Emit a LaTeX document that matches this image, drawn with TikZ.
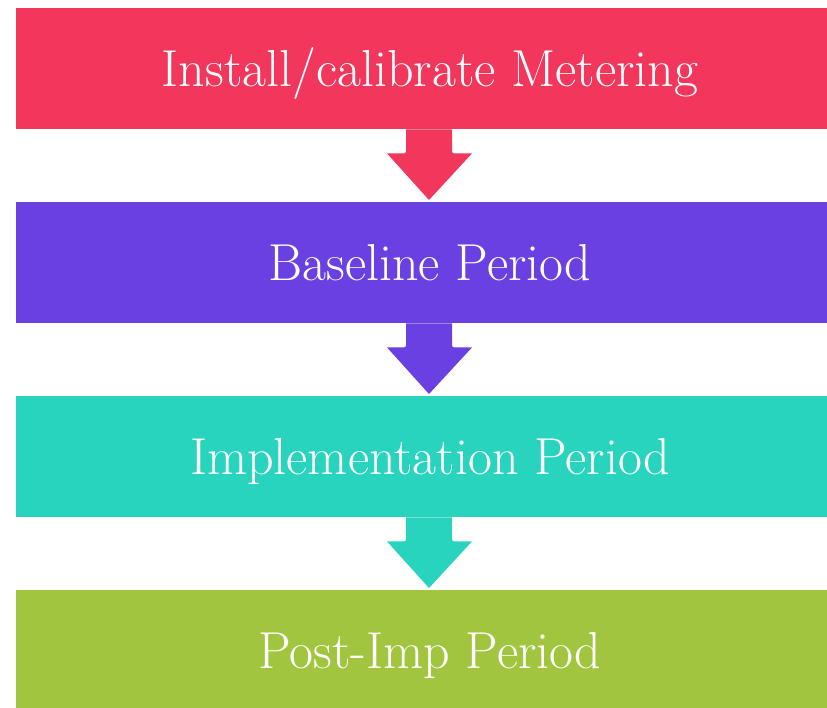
\documentclass[tikz,border=0pt]{standalone}
\usetikzlibrary{calc}
\definecolor{cred}{RGB}{242,54,92}
\definecolor{cpurple}{RGB}{106,64,227}
\definecolor{cteal}{RGB}{40,212,190}
\definecolor{cgreen}{RGB}{162,197,64}
\tikzset{
  stage/.style={rectangle, inner sep=0pt, minimum width=827pt, minimum height=121pt,
    anchor=north west, fill=#1},
  stagetext/.style={anchor=base, text=white, inner sep=0pt,
    font=\fontsize{52}{56}\selectfont}
}
\begin{document}
\begin{tikzpicture}[x=1pt,y=-1pt]
\useasboundingbox (0,0) rectangle (827,707);
\fill[white] (0,0) rectangle (827,707);
\clip (0,0) rectangle (827,707);
\node[stage=cred]    (b1) at (16,8)   {};
\node[stage=cpurple] (b2) at (16,202) {};
\node[stage=cteal]   (b3) at (16,396) {};
\node[stage=cgreen]  (b4) at (16,590) {};
\node[stagetext] (t1) at (430,86)  {Install/calibrate Metering};
\node[stagetext] (t2) at (430,280) {Baseline Period};
\node[stagetext] (t3) at (430,474) {Implementation Period};
\node[stagetext] (t4) at (430,668) {Post-Imp Period};
\foreach \a/\b/\c in {b1/b2/cred, b2/b3/cpurple, b3/b4/cteal}{
  \fill[\c]
    ($(\a.south west)+(390,0)$) [rounded corners=2pt] -- ($(\a.south west)+(390,24)$) [sharp corners] -- ($(\a.south west)+(371,24)$)
    -- ($(\b.north west)+(413,-2)$) -- ($(\a.south west)+(456,24)$) [rounded corners=2pt]
    -- ($(\a.south west)+(436,24)$) [sharp corners] -- ($(\a.south west)+(436,0)$) -- cycle;
}
\end{tikzpicture}
\end{document}
